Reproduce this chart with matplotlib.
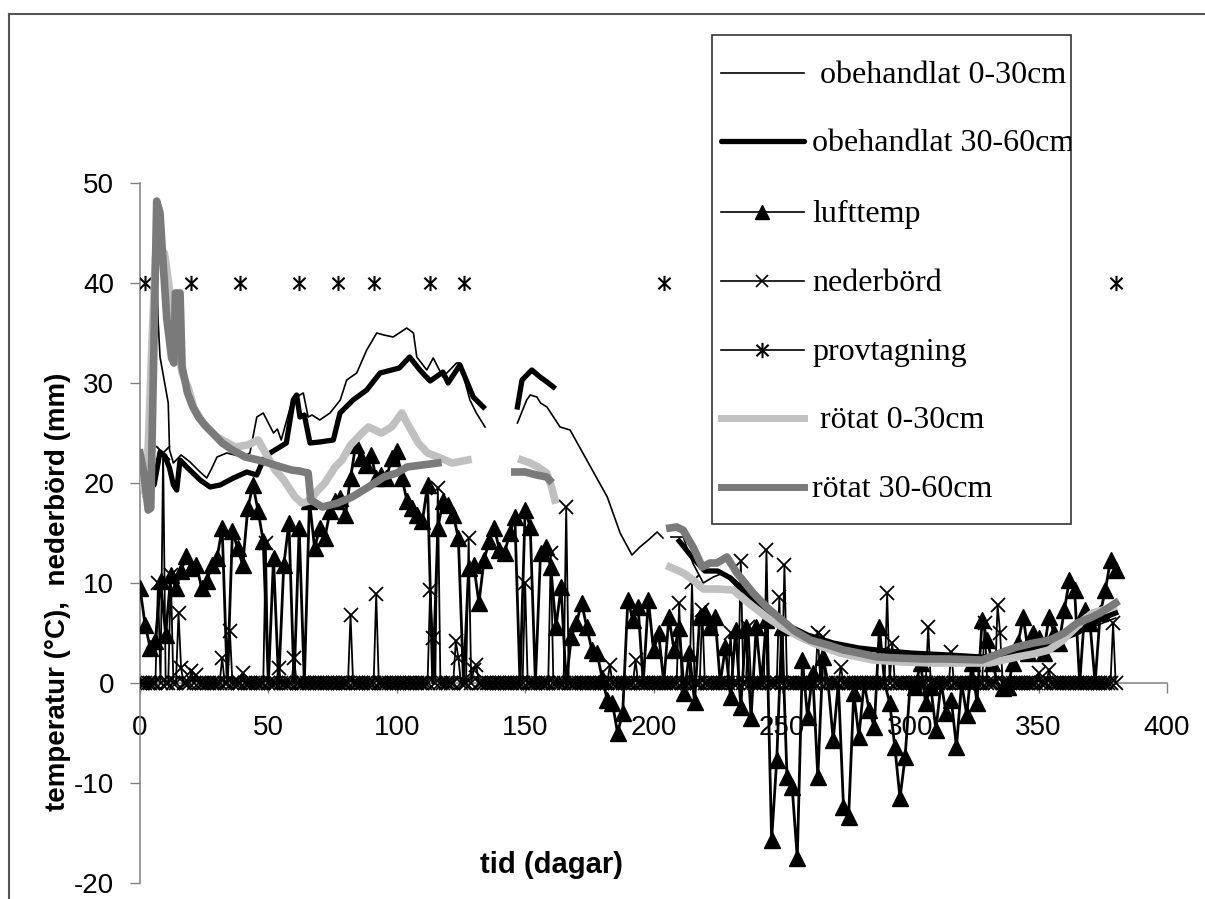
import numpy as np
import matplotlib
matplotlib.use("Agg")
import matplotlib.pyplot as plt
from matplotlib.path import Path
from matplotlib.lines import Line2D
from matplotlib.patches import Rectangle

plt.rcParams['axes.unicode_minus'] = False

nan = np.nan
W, H = 1205, 899

# obehandlat 0-30cm
ob030_day = [0, 3, 5, 6.5, 7.1, 7.8, 11, 11.5, 13, 16, 19.5, 23, 26, 28, 30, 33.8, 40, 42.8,
             45.5, 48, 50, 52, 53.5, 55, 59, 61, 63.6, 65.5, 67, 70, 74, 78, 80.5, 84.4, 88.3,
             92.2, 95, 98.6, 103.9, 106.5, 107.8, 111.7, 114.2, 118, 123.3, 124.6, 128.5, 131,
             134.4, 140,
             147, 150.6, 152, 154.6, 156, 158.5, 163.6, 167.5, 174, 182, 187, 191.6, 194.7, 198,
             201.4, 203.7, 205,
             206.8, 211.6, 212.9, 215.5, 219.4, 223.3, 227.2, 231, 237.6, 244, 250, 258, 266,
             275, 283, 291, 300, 310, 320, 328, 336, 345, 355, 365, 375, 380]
ob030_temp = [22.5, 21.0, 30.0, 41.0, 36.0, 32.6, 28.0, 23.3, 22.0, 22.8, 22.1, 21.2, 20.5, 21.5,
              22.6, 23.0, 22.6, 23.0, 26.6, 27.0, 26.0, 25.0, 25.4, 24.3, 28.0, 28.6, 29.0, 26.6,
              26.8, 26.3, 27.0, 28.3, 30.3, 31.0, 33.3, 35.0, 34.8, 34.6, 35.5, 35.0, 32.6, 31.3,
              32.5, 30.6, 32.0, 32.0, 28.3, 27.0, 25.6, nan,
              26.0, 28.3, 28.8, 28.6, 28.0, 27.6, 25.6, 25.3, 22.3, 18.6, 15.0, 12.8, 13.6, 14.3,
              15.1, 14.5, nan,
              14.6, 14.6, 13.6, 11.9, 10.0, 10.6, 11.0, 10.0, 8.0, 6.3, 5.3, 4.5, 4.0,
              3.6, 3.3, 3.0, 2.8, 2.7, 2.6, 2.5, 2.7, 3.2, 4.0, 5.0, 6.0, 6.5]

# obehandlat 30-60cm
ob3060_day = [0, 3, 5.5, 7.8, 9.7, 11.5, 13, 14.3, 15.6, 18.2, 23.4, 27.3, 31.2, 36.4, 41.6,
              45.5, 48, 49.5,
              51.3, 57, 59.7, 61, 62.3, 64, 66.2, 70, 75.3, 77.9, 83, 88.3, 93.5, 101, 105, 109,
              113, 118, 120, 124.6, 129.8, 133.7, 140,
              147, 148.8, 152.6, 155.8, 158, 161, 180,
              210, 215, 220, 225, 230, 238, 245, 252, 260, 270, 280, 287, 300, 315, 328, 336,
              345, 355, 365, 375, 380]
ob3060_temp = [22.5, 19.5, 19.8, 23.1, 22.7, 21.5, 19.8, 19.3, 22.3, 21.6, 20.3, 19.6, 19.8, 20.5,
               21.1, 20.8, 22.3, nan,
               23.1, 24.0, 28.3, 28.8, 26.6, 26.8, 24.0, 24.1, 24.3, 27.0, 28.3, 29.3, 31.0, 31.5,
               32.6, 31.3, 30.2, 31.1, 30.0, 31.8, 28.6, 27.6, nan,
               27.6, 30.3, 31.3, 30.6, 30.2, 29.6, nan,
               14.2, 12.6, 11.2, 11.2, 10.5, 8.6, 7.0, 5.8, 4.8, 4.0, 3.5, 3.3, 3.0, 2.8, 2.6, 2.8,
               3.3, 4.0, 5.0, 6.5, 7.0]

# lufttemp, every second day from day 0
luft_day = list(range(0, 381, 2))
luft_temp = [9.5, 5.8, 3.5, 4.2, 10.2, 4.8, 10.8, 9.5, 11.2, 12.7,
             11.5, 11.8, 9.5, 10.2, 11.8, 12.5, 15.5, 0, 15.2, 13.5,
             11.8, 17.5, 19.8, 17.2, 14.2, 0, 12.5, 0, 11.8, 16.0,
             0, 15.5, 0, 18.2, 13.5, 15.5, 14.5, 17.2, 18.2, 18.5,
             16.8, 20.5, 23.8, 22.5, 21.8, 22.8, 20.5, 20.8, 20.5, 22.5,
             23.2, 20.5, 18.2, 17.5, 16.8, 16.2, 19.8, 0, 15.5, 18.2,
             17.8, 16.8, 14.5, 0, 11.5, 11.8, 8.0, 12.3, 14.2, 15.5,
             13.3, 13.0, 15.0, 16.6, 0, 17.3, 15.6, 0, 13.0, 13.6,
             11.6, 5.6, 9.6, 0, 4.6, 6.0, 8.0, 5.6, 3.3, 3.0,
             0.5, -1.7, -2.0, -5.0, -3.0, 8.3, 6.3, 7.6, 0, 8.3,
             3.3, 5.0, 0, 6.6, 3.3, 5.5, -1.0, 3.0, -1.9, 6.6,
             7.0, 5.6, 6.6, 0, 3.6, -1.4, 5.3, -2.4, 5.6, -3.5,
             5.6, 0, 6.3, -15.7, -7.7, 5.6, -9.4, -10.4, -17.5, 2.3,
             -3.4, 1.0, -9.4, 2.6, 0, -5.7, 0, -12.4, -13.4, -1.0,
             -5.4, 0, -2.7, -4.4, 5.6, 0, -2.0, -6.4, -11.5, -7.4,
             0, -0.4, 2.0, -2.0, -0.4, -4.7, 0, -3.0, -1.7, -6.4,
             0, -3.2, 2.0, -2.0, 6.3, 4.3, 2.0, 0, -0.5, -0.4,
             2.0, 4.0, 6.6, 3.0, 5.0, 4.5, 3.0, 6.6, 5.0, 4.0,
             7.3, 10.3, 9.3, 0, 7.3, 6.0, 0, 7.0, 9.3, 12.3,
             11.3]

# nederbörd: daily, zero except on the rain days below
ned_day = list(range(0, 381))
rain_day = [7, 9, 12, 15, 16, 20, 22, 32, 35, 40, 49, 54, 60, 82, 92, 113, 114, 116, 123, 124,
            128, 130, 131, 150, 160, 166, 183, 193, 210, 215, 219, 230, 234, 237, 244, 249, 251,
            264, 266, 273, 291, 293, 307, 316, 329, 334, 335, 350, 354, 379]
rain_mm = [10.0, 23.0, 10.8, 7.0, 1.5, 1.2, 0.8, 2.5, 5.2, 1.0, 14.0, 1.5, 2.5, 6.8, 8.9, 9.3,
           4.5, 19.5, 4.2, 2.5, 14.5, 1.3, 1.8, 10.0, 13.0, 17.6, 1.8, 2.3, 8.0, 10.1, 7.3, 5.0,
           12.2, 5.6, 13.3, 8.6, 11.8, 5.0, 4.6, 1.6, 9.0, 4.0, 5.6, 3.1, 6.0, 7.8, 5.0, 1.0, 1.3,
           6.0]

# provtagning
prov_day = [2, 20, 39, 62, 77, 91, 113, 126, 204, 380]
prov_val = [40] * len(prov_day)

# rötat 0-30cm
rot030_day = [0, 2.5, 4.5, 6, 9.5, 11, 13, 16.4, 18.7, 21, 25, 30, 37, 42, 46, 52.6, 56, 60.4, 63,
              66, 69, 72, 76, 78.7, 82, 86.5, 89, 94, 98, 102, 104, 108.4, 112, 115, 121.6, 127.7,
              140,
              148.7, 152, 155, 158.4, 160.3, 161.6, 180,
              206.4, 211.6, 215.5, 219.4, 225, 231, 237, 244, 250, 257, 265, 272.6, 285.5, 297,
              309, 320, 331, 341.6, 348, 354, 359, 363.5, 367, 371, 375, 379]
rot030_temp = [21.0, 18.5, 33.0, 42.5, 43.0, 40.3, 36.0, 31.0, 29.6, 27.5, 25.8, 24.6, 23.6, 23.8,
               24.3, 21.3, 20.3, 18.6, 18.0, 18.2, 19.2, 20.0, 21.6, 22.3, 23.8, 25.0, 25.6, 25.0,
               25.6, 27.0, 26.0, 24.0, 23.0, 22.7, 22.0, 22.3, nan,
               22.3, 22.0, 21.6, 21.0, 19.6, 18.3, nan,
               11.6, 11.0, 10.3, 9.4, 9.4, 9.3, 8.0, 6.6, 5.6, 4.6, 3.7, 3.0, 2.3, 2.1,
               2.0, 2.0, 2.0, 2.6, 2.9, 3.3, 4.2, 5.3, 6.2, 7.0, 7.3, 7.6]

# rötat 30-60cm
rot3060_day = [0, 1.5, 3.2, 4.2, 6.5, 7.8, 9, 10.4, 12.3, 13.2, 13.8, 15.6, 16.4, 18.5, 20.6, 23,
               26, 29, 32, 36, 41, 46, 50, 55, 59, 62, 65.5, 66.5, 71, 77, 82.6, 89, 95, 100, 104,
               110, 116, 140,
               146, 150, 154.5, 158.4, 159.5, 180,
               206.4, 209, 211.5, 215.4, 219, 222, 224.7, 228.6, 232.5, 238.8, 244, 250, 255, 261,
               268, 274, 280, 287, 295, 305, 315, 328, 335, 341.5, 348, 354.5, 360, 365, 370, 374,
               377, 380]
rot3060_temp = [23.0, 21.0, 17.3, 17.5, 48.2, 47.0, 42.0, 36.5, 32.5, 32.0, 39.0, 39.0, 31.6, 29.0,
                27.6, 26.5, 25.6, 24.8, 24.0, 23.3, 22.6, 22.3, 22.0, 21.6, 21.3, 21.2, 21.0, 18.3,
                17.6, 18.0, 18.6, 19.6, 20.6, 21.0, 21.6, 21.8, 22.0, nan,
                21.1, 21.1, 20.8, 20.6, 20.3, nan,
                15.5, 15.6, 15.3, 13.6, 11.6, 12.0, 12.0, 12.6, 11.0, 9.0, 7.6, 6.3, 5.2, 4.3,
                3.8, 3.3, 3.0, 2.6, 2.5, 2.4, 2.4, 2.3, 3.0, 3.6, 4.0, 4.3, 5.0, 6.0, 6.5, 7.0,
                7.5, 8.0]

x_ticks = [0, 50, 100, 150, 200, 250, 300, 350, 400]
y_ticks = [-20, -10, 0, 10, 20, 30, 40, 50]

ned_mm = np.zeros(len(ned_day))
ned_mm[rain_day] = rain_mm
luft_arr = np.array(luft_temp)

# Excel style asterisk marker: vertical bar plus a cross
star = Path([(0, -1), (0, 1), (-0.8, -0.75), (0.8, 0.75), (-0.8, 0.75), (0.8, -0.75)],
            [Path.MOVETO, Path.LINETO] * 3)

light = '#c0c0c0'
dark = '#7a7a7a'

fig = plt.figure(figsize=(W / 100, H / 100), dpi=100)
ax = fig.add_axes([140 / W, 1 - 883 / H, 1027 / W, 700 / H])

ax.plot(ob030_day, ob030_temp, color='black', lw=1.2, zorder=3)
ax.plot(ob3060_day, ob3060_temp, color='black', lw=3.8, zorder=3)
ax.plot(luft_day, luft_temp, color='black', lw=2.0, marker='^', ms=11,
        markevery=list(luft_arr != 0), zorder=4)
ax.plot(ned_day, ned_mm, color='black', lw=1.3, marker='x', ms=10.5, mew=1.3, zorder=4)
ax.plot(prov_day, prov_val, ls='none', marker=star, ms=11, mew=1.5, color='black',
        zorder=5)
ax.plot(rot030_day, rot030_temp, color=light, lw=5.5, zorder=5)
ax.plot(rot3060_day, rot3060_temp, color=dark, lw=5.5, zorder=5)

ax.set_xlim(0, 400)
ax.set_ylim(-20, 50)
ax.set_xticks(x_ticks)
ax.set_yticks(y_ticks)
ax.spines['top'].set_visible(False)
ax.spines['right'].set_visible(False)
ax.spines['bottom'].set_position(('data', 0))
for s in ('left', 'bottom'):
    ax.spines[s].set_color('#808080')
    ax.spines[s].set_linewidth(1.1)
ax.tick_params(axis='y', length=7.2, width=1, color='#808080', pad=11.5,
               labelsize=20, direction='out')
ax.tick_params(axis='x', length=7.2, width=1, color='#808080', pad=16,
               labelsize=20, direction='out')
for lab in ax.get_xticklabels() + ax.get_yticklabels():
    lab.set_family('Liberation Sans')

fig.text(58 / W, 1 - 592 / H, 'temperatur (°C),  nederbörd (mm)', rotation=90,
         ha='center', va='center', fontsize=20, fontweight='bold', family='Liberation Sans')
fig.text(552 / W, 1 - 865 / H, 'tid (dagar)', ha='center', va='center',
         fontsize=21, fontweight='bold', family='Liberation Sans')

# chart border (top and left edge only, rest is cut off)
fig.add_artist(Line2D([9 / W, 1], [1 - 14 / H, 1 - 14 / H], color='#555555', lw=1.5))
fig.add_artist(Line2D([9 / W, 9 / W], [1 - 14 / H, 0], color='#555555', lw=1.5))

# legend, drawn by hand to follow the Excel layout
box = Rectangle((712 / W, 1 - 524 / H), (1071 - 712) / W, (524 - 35) / H,
                transform=fig.transFigure, fill=False, edgecolor='#333333', lw=1.2)
fig.add_artist(box)
entries = [
    (' obehandlat 0-30cm', dict(color='black', lw=1.2)),
    ('obehandlat 30-60cm', dict(color='black', lw=3.8, solid_capstyle='round')),
    ('lufttemp', dict(color='black', lw=1.2, marker='^', ms=10)),
    ('nederbörd', dict(color='black', lw=1.2, marker='x', ms=9, mew=1.2)),
    ('provtagning', dict(color='black', lw=1.2, marker=star, ms=11, mew=1.5)),
    (' rötat 0-30cm', dict(color=light, lw=5)),
    ('rötat 30-60cm', dict(color=dark, lw=5)),
]
rows_y = [73, 141, 212, 281, 350, 418, 487]
for (label, style), py in zip(entries, rows_y):
    yy = 1 - py / H
    fig.add_artist(Line2D([721 / W, 762 / W, 804 / W], [yy, yy, yy], markevery=[1],
                          transform=fig.transFigure, **style))
    t = fig.text(812 / W, 1 - (py + 10) / H, label, fontsize=23, family='Liberation Serif',
                 va='baseline', ha='left')
    t.set_clip_path(box)

fig.savefig('out.png', dpi=100)
